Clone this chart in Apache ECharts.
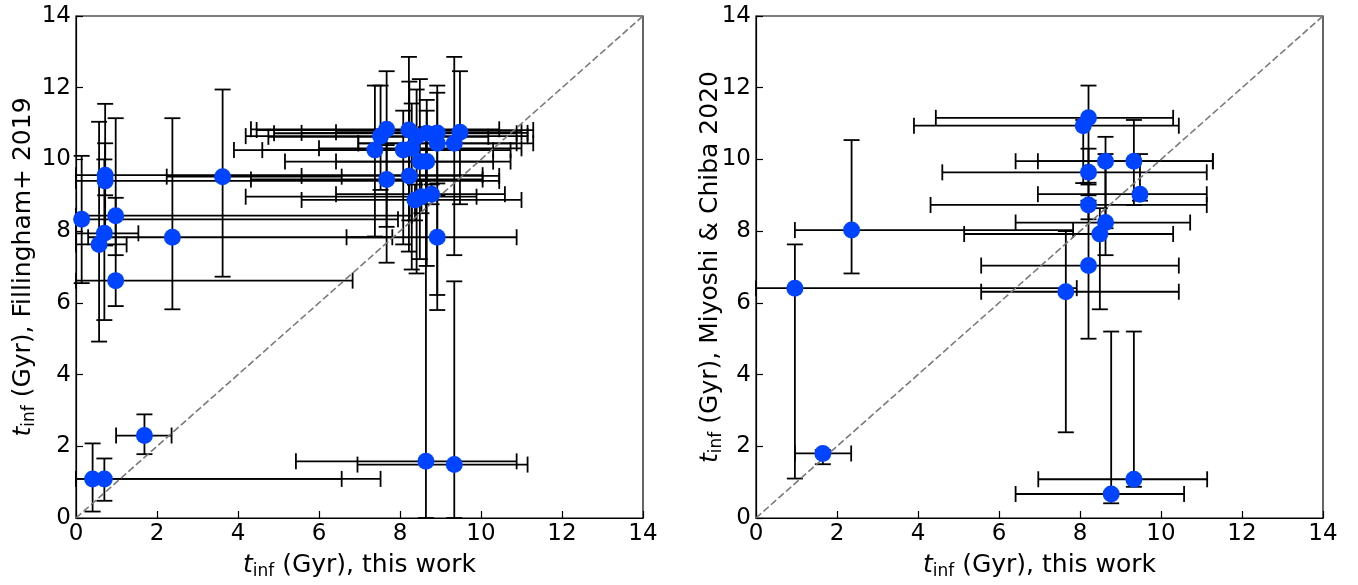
<!DOCTYPE html>
<html>
<head>
<meta charset="utf-8">
<script src="https://cdn.jsdelivr.net/npm/echarts@6/dist/echarts.min.js"></script>
<style>
html,body{margin:0;padding:0;background:#fff;}
#chart{width:1358px;height:585px;}
</style>
</head>
<body>
<div id="chart"></div>
<script>
// ---- Left panel: this work vs Fillingham+ 2019 ----
const leftX    = [0.14,0.57,0.72,0.72,0.70,0.98,0.98,0.41,0.70,1.69,2.38,3.62,7.38,7.52,7.67,7.67,8.22,8.08,8.29,8.41,8.66,8.92,8.92,8.49,8.66,8.23,8.37,8.53,8.78,9.48,9.34,8.92,8.64,9.34];
const leftY    = [8.33,7.63,9.56,9.40,7.94,8.43,6.62,1.09,1.09,2.30,7.83,9.52,10.26,10.65,10.84,9.44,10.82,10.26,10.31,10.63,10.73,10.74,10.45,9.94,9.94,9.54,8.87,8.96,9.03,10.76,10.45,7.83,1.58,1.49];
const leftXLo  = [0,0,0,0,0,0,0,0,0,0.99,0.3,2.24,3.9,4.19,4.32,4.32,4.46,4.6,6.0,4.75,4.89,5.57,6.97,5.16,6.42,5.57,5.57,4.19,6.42,6.42,6.97,6.68,5.43,6.95];
const leftXHi  = [7.95,1.25,10.04,10.45,1.54,8.29,6.83,6.56,7.52,2.36,7.81,6.56,10.73,11.15,10.45,10.04,11.29,10.3,11.0,10.18,10.88,11.15,11.29,10.3,10.73,10.45,11.0,9.89,10.59,11.0,10.88,10.88,10.88,11.15];
const leftYLo  = [6.55,4.92,9.0,7.6,5.52,7.33,5.91,0.18,0.48,1.78,5.82,6.73,7.85,9.15,8.12,7.12,7.43,7.63,6.93,6.82,7.03,9.33,6.22,7.22,8.9,8.3,8.3,8.5,8.75,8.75,7.33,5.8,0,0];
const leftYHi  = [10.1,11.05,10.45,11.55,10.0,11.15,8.93,2.08,1.66,2.89,11.15,11.95,12.06,12.06,12.46,10.4,12.86,11.36,11.56,11.95,11.66,12.06,11.86,12.24,11.36,12.17,9.3,9.4,9.3,12.46,12.86,9.0,10.9,6.6];

// ---- Right panel: this work vs Miyoshi & Chiba 2020 ----
const rightX   = [0.96,1.65,2.36,7.65,8.08,8.21,8.63,9.33,9.48,8.21,8.21,8.63,8.49,8.21,8.77,9.33];
const rightY   = [6.41,1.80,8.03,6.31,10.94,11.16,9.95,9.95,9.03,9.64,8.73,8.24,7.92,7.04,0.67,1.08];
const rightXLo = [0,0.96,0.96,5.56,3.9,4.44,6.41,6.96,6.96,4.6,4.31,6.41,5.14,5.56,6.41,6.97];
const rightXHi = [7.92,2.35,7.83,10.44,10.44,10.3,11.28,11.28,11.13,11.13,11.13,10.72,10.3,10.44,10.57,11.14];
const rightYLo = [1.1,1.5,6.82,2.39,9.34,9.0,8.08,8.73,8.85,9.35,8.33,7.33,5.82,5.0,0.41,0.87];
const rightYHi = [7.63,1.9,10.54,8.0,11.1,12.06,10.63,11.1,10.15,10.3,8.85,10.15,8.64,9.3,5.2,5.2];

// ---- Axis ticks ----
const axisMin = 0, axisMax = 14, tickStep = 2;
const oneToOne = [[0,0],[14,14]];

function pack(x,y,xlo,xhi,ylo,yhi){
  return x.map((v,i)=>[v,y[i],xlo[i],xhi[i],ylo[i],yhi[i]]);
}
const leftData = pack(leftX,leftY,leftXLo,leftXHi,leftYLo,leftYHi);
const rightData = pack(rightX,rightY,rightXLo,rightXHi,rightYLo,rightYHi);

const CAP = 8;
function errRender(params, api){
  const x = api.value(0), y = api.value(1);
  const xlo = api.value(2), xhi = api.value(3), ylo = api.value(4), yhi = api.value(5);
  const pL = api.coord([xlo,y]), pR = api.coord([xhi,y]);
  const pB = api.coord([x,ylo]), pT = api.coord([x,yhi]);
  const st = {stroke:'#000', lineWidth:1.8};
  const ch = [
    {type:'line', shape:{x1:pL[0],y1:pL[1],x2:pR[0],y2:pR[1]}, style:st},
    {type:'line', shape:{x1:pL[0],y1:pL[1]-CAP,x2:pL[0],y2:pL[1]+CAP}, style:st},
    {type:'line', shape:{x1:pR[0],y1:pR[1]-CAP,x2:pR[0],y2:pR[1]+CAP}, style:st},
    {type:'line', shape:{x1:pB[0],y1:pB[1],x2:pT[0],y2:pT[1]}, style:st},
    {type:'line', shape:{x1:pB[0]-CAP,y1:pB[1],x2:pB[0]+CAP,y2:pB[1]}, style:st},
    {type:'line', shape:{x1:pT[0]-CAP,y1:pT[1],x2:pT[0]+CAP,y2:pT[1]}, style:st}
  ];
  return {type:'group', children:ch};
}

const FONT = 'DejaVu Sans';
const rich = {
  i:{fontFamily:FONT, fontStyle:'italic', fontSize:25, color:'#000'},
  s:{fontFamily:FONT, fontSize:17, color:'#000', padding:[12,0,0,0]},
  n:{fontFamily:FONT, fontSize:25, color:'#000'}
};

function makeAxis(gi, isX, name, gap, moveOverlap){
  return {
    type:'value', gridIndex:gi, min:axisMin, max:axisMax, interval:tickStep,
    name:name, nameLocation:'middle', nameGap: gap, nameMoveOverlap: moveOverlap,
    nameTextStyle:{rich:rich},
    axisLine:{show:true, onZero:false, lineStyle:{color:'#000', width:1.2}},
    axisTick:{show:true, inside:true, length:7, lineStyle:{color:'#000', width:1.2}},
    axisLabel:{fontFamily:FONT, fontSize:23, color:'#000', margin:5},
    splitLine:{show:false}
  };
}

const chart = echarts.init(document.getElementById('chart'), null, {renderer:'canvas'});
chart.setOption({
  animation:false,
  backgroundColor:'#fff',
  grid:[
    {left:76, top:16, width:567, height:502, show:true, borderColor:'#000', borderWidth:1.2},
    {left:756, top:16, width:567, height:502, show:true, borderColor:'#000', borderWidth:1.2}
  ],
  xAxis:[
    makeAxis(0,true,'{i|t}{s|inf}{n| (Gyr), this work}',33,true),
    makeAxis(1,true,'{i|t}{s|inf}{n| (Gyr), this work}',33,true)
  ],
  yAxis:[
    makeAxis(0,false,'{i|t}{s|inf}{n| (Gyr), Fillingham+ 2019}',38,true),
    makeAxis(1,false,'{i|t}{s|inf}{n| (Gyr), Miyoshi & Chiba 2020}',31,false)
  ],
  series:[
    {type:'custom', xAxisIndex:0, yAxisIndex:0, renderItem:errRender, data:leftData, z:2, silent:true},
    {type:'custom', xAxisIndex:1, yAxisIndex:1, renderItem:errRender, data:rightData, z:2, silent:true},
    {type:'line', xAxisIndex:0, yAxisIndex:0, data:oneToOne, symbol:'none', z:3,
     lineStyle:{color:'#7a7a7a', width:1.6, type:[7,3]}},
    {type:'line', xAxisIndex:1, yAxisIndex:1, data:oneToOne, symbol:'none', z:3,
     lineStyle:{color:'#7a7a7a', width:1.6, type:[7,3]}},
    {type:'scatter', xAxisIndex:0, yAxisIndex:0, data:leftData.map(d=>[d[0],d[1]]), symbolSize:17,
     itemStyle:{color:'#0044ff', opacity:1}, z:4},
    {type:'scatter', xAxisIndex:1, yAxisIndex:1, data:rightData.map(d=>[d[0],d[1]]), symbolSize:17,
     itemStyle:{color:'#0044ff', opacity:1}, z:4}
  ]
});
</script>
</body>
</html>
